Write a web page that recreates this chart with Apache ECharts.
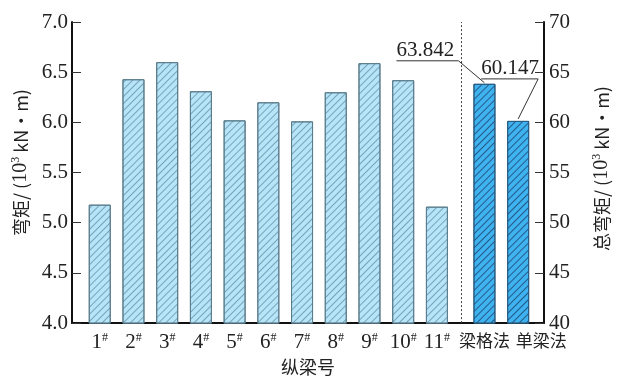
<!DOCTYPE html>
<html>
<head>
<meta charset="utf-8">
<script src="https://cdn.jsdelivr.net/npm/echarts@6/dist/echarts.min.js"></script>
<style>
  html, body { margin: 0; padding: 0; background: #fff; }
  #chart { width: 620px; height: 381px; }
</style>
</head>
<body>
<div id="chart"></div>
<script>
// Girder labels and per-girder bending moments (10^3 kN·m)
const girders = ['1#', '2#', '3#', '4#', '5#', '6#', '7#', '8#', '9#', '10#', '11#'];
const girderMoments = [5.18, 6.43, 6.60, 6.31, 6.02, 6.20, 6.01, 6.30, 6.59, 6.42, 5.16];

// Total bending moment by analysis method (10^3 kN·m)
const methods = ['梁格法', '单梁法'];
const totalMoments = [63.842, 60.147];

// Axis ranges
const leftAxis = { min: 4.0, max: 7.0, step: 0.5 };
const rightAxis = { min: 40, max: 70, step: 5 };

const SERIF = '"Liberation Serif", "Times New Roman", serif';
const CJK = '"Noto Sans CJK SC", sans-serif';

// x slots: girders on 1..11, the two methods after a wider gap
const GAP = 1.41;
const girderX = girders.map((_, i) => i + 1);
const methodX = methods.map((_, j) => girders.length + GAP + j);
const dividerX = girders.length + GAP / 2;
const X_MIN = 1 - 28 / 34;
const X_MAX = X_MIN + 14;

const nameOfX = {};
girderX.forEach((x, i) => { nameOfX[x.toFixed(2)] = { kind: 'g', text: girders[i] }; });
methodX.forEach((x, j) => { nameOfX[x.toFixed(2)] = { kind: 'm', idx: j, text: methods[j] }; });

const chart = echarts.init(document.getElementById('chart'), null, { renderer: 'canvas' });

const lightDecal = {
  symbol: 'rect', symbolSize: 1, color: 'rgba(80,120,140,0.6)',
  dashArrayX: [1, 0], dashArrayY: [1, 3.2], rotation: -Math.PI / 4
};
const darkDecal = {
  symbol: 'rect', symbolSize: 1, color: 'rgba(25,60,100,0.75)',
  dashArrayX: [1, 0], dashArrayY: [1, 3.2], rotation: -Math.PI / 4
};

const option = {
  animation: false,
  backgroundColor: '#fff',
  grid: { left: 72, right: 72, top: 22, bottom: 55, containLabel: false },
  xAxis: {
    type: 'value',
    min: X_MIN, max: X_MAX,
    name: '纵梁号',
    nameLocation: 'middle',
    nameGap: 33,
    nameTextStyle: { fontFamily: CJK, fontSize: 18, color: '#222' },
    axisLine: { show: true, onZero: false, lineStyle: { color: '#111', width: 2 } },
    axisTick: { show: false },
    splitLine: { show: false },
    axisLabel: {
      customValues: girderX.concat(methodX),
      margin: 9,
      color: '#222',
      fontFamily: SERIF,
      fontSize: 21,
      formatter: function (v) {
        const e = nameOfX[Number(v).toFixed(2)];
        if (!e) return '';
        if (e.kind === 'g') return e.text.replace('#', '') + '{s|#}';
        return e.idx === 1 ? '{shift|' + e.text + '}' : '{m|' + e.text + '}';
      },
      rich: {
        s: { fontFamily: SERIF, fontSize: 12, verticalAlign: 'top', padding: [0, 0, 8, 0], color: '#222' },
        m: { fontFamily: CJK, fontSize: 17, color: '#222' },
        shift: { fontFamily: CJK, fontSize: 17, color: '#222', padding: [0, 0, 0, 46] }
      }
    }
  },
  yAxis: [
    {
      type: 'value',
      min: leftAxis.min, max: leftAxis.max, interval: leftAxis.step,
      position: 'left',
      name: '弯矩/ ({n|10}{sup|3} kN·m)',
      nameLocation: 'middle',
      nameRotate: 90,
      nameGap: 40,
      nameTextStyle: {
        fontFamily: CJK, fontSize: 18, color: '#222', padding: [0, 0, 0, 20],
        rich: {
          n: { fontFamily: SERIF, fontSize: 20, color: '#222' },
          sup: { fontFamily: SERIF, fontSize: 12, color: '#222', verticalAlign: 'top', padding: [0, 0, 10, 0] }
        }
      },
      axisLine: { show: true, lineStyle: { color: '#111', width: 2 } },
      axisTick: { show: true, inside: true, length: 9, lineStyle: { color: '#333', width: 1 } },
      splitLine: { show: false },
      axisLabel: {
        margin: 4, color: '#222', fontFamily: SERIF, fontSize: 21,
        formatter: v => v.toFixed(1)
      }
    },
    {
      type: 'value',
      min: rightAxis.min, max: rightAxis.max, interval: rightAxis.step,
      position: 'right',
      name: '总弯矩/ ({n|10}{sup|3} kN·m)',
      nameLocation: 'middle',
      nameRotate: 90,
      nameGap: 47,
      nameTextStyle: {
        fontFamily: CJK, fontSize: 18, color: '#222', padding: [0, 0, 0, 8],
        rich: {
          n: { fontFamily: SERIF, fontSize: 20, color: '#222' },
          sup: { fontFamily: SERIF, fontSize: 12, color: '#222', verticalAlign: 'top', padding: [0, 0, 10, 0] }
        }
      },
      axisLine: { show: true, lineStyle: { color: '#111', width: 2 } },
      axisTick: { show: true, inside: true, length: 9, lineStyle: { color: '#333', width: 1 } },
      splitLine: { show: false },
      axisLabel: {
        margin: 5, color: '#222', fontFamily: SERIF, fontSize: 21,
        formatter: v => String(v)
      }
    }
  ],
  series: [
    {
      name: '弯矩',
      type: 'bar',
      yAxisIndex: 0,
      barWidth: 22,
      barGap: '-100%',
      data: girderMoments.map((v, i) => [girderX[i], v]),
      itemStyle: { color: '#b6e4f8', borderColor: '#5b7d8c', borderWidth: 1, decal: lightDecal },
      markLine: {
        silent: true,
        symbol: 'none',
        label: { show: false },
        lineStyle: { type: [2, 2], color: '#444', width: 1 },
        data: [{ xAxis: dividerX }]
      }
    },
    {
      name: '总弯矩',
      type: 'bar',
      yAxisIndex: 1,
      barWidth: 22,
      barGap: '-100%',
      data: totalMoments.map((v, j) => [methodX[j], v]),
      itemStyle: { color: '#3fb2f0', borderColor: '#2a5c80', borderWidth: 1, decal: darkDecal }
    }
  ]
};

chart.setOption(option);

// Leader-line callouts giving the total moments
function callouts() {
  const toPx = (x, y) => chart.convertToPixel({ xAxisIndex: 0, yAxisIndex: 1 }, [x, y]);
  const a = toPx(methodX[0], totalMoments[0]);
  const b = toPx(methodX[1], totalMoments[1]);
  const lineStyle = { stroke: '#333', lineWidth: 1, fill: null };
  const textStyle = (t) => ({ text: t, fontFamily: SERIF, fontSize: 21, fill: '#222', textAlign: 'center', textVerticalAlign: 'bottom' });
  chart.setOption({
    graphic: [
      { type: 'polyline', shape: { points: [[a[0], a[1] - 1], [a[0] - 26, a[1] - 23], [a[0] - 88, a[1] - 23]] }, style: lineStyle, z: 10 },
      { type: 'text', x: a[0] - 59, y: a[1] - 23, style: textStyle(totalMoments[0].toFixed(3)), z: 10 },
      { type: 'polyline', shape: { points: [[b[0], b[1] - 2], [b[0] + 20, b[1] - 42], [b[0] - 37, b[1] - 42]] }, style: lineStyle, z: 10 },
      { type: 'text', x: b[0] - 8, y: b[1] - 42, style: textStyle(totalMoments[1].toFixed(3)), z: 10 }
    ]
  });
}
callouts();
</script>
</body>
</html>
